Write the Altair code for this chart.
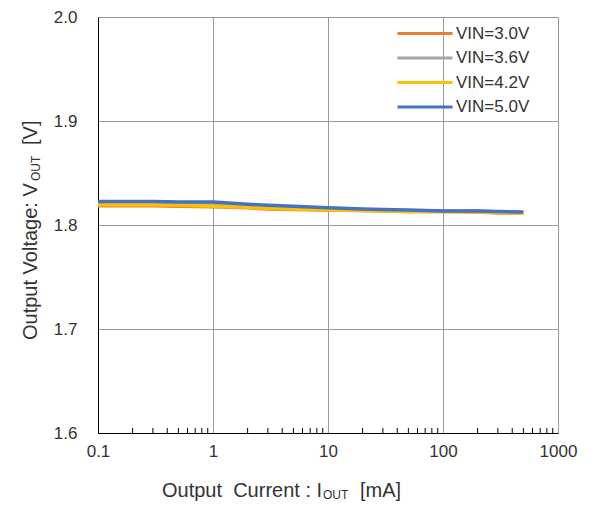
import altair as alt
import pandas as pd

# ---- data ----
iout = [0.1, 0.2, 0.3, 0.5, 1, 2, 3, 5, 10, 20, 30, 50, 100, 200, 300, 500]
v30 = [1.8185, 1.8185, 1.8185, 1.818, 1.8175, 1.8165, 1.8155, 1.815, 1.8145, 1.814, 1.8135, 1.813, 1.813, 1.8125, 1.8115, 1.8115]
v36 = [1.8205, 1.8205, 1.8205, 1.820, 1.819, 1.818, 1.817, 1.816, 1.8155, 1.8145, 1.814, 1.8135, 1.8135, 1.8135, 1.8125, 1.812]
v42 = [1.8195, 1.8195, 1.8195, 1.819, 1.818, 1.817, 1.816, 1.8155, 1.8145, 1.814, 1.8135, 1.813, 1.813, 1.8125, 1.812, 1.8115]
v50 = [1.8225, 1.8225, 1.8225, 1.822, 1.822, 1.820, 1.819, 1.818, 1.8165, 1.8155, 1.815, 1.8145, 1.8135, 1.8135, 1.813, 1.8125]
series = ["VIN=3.0V", "VIN=3.6V", "VIN=4.2V", "VIN=5.0V"]
colors = ["#ED7D31", "#A5A5A5", "#FFC000", "#4472C4"]
x_major = [0.1, 1, 10, 100, 1000]
x_minor = [m * d for d in [0.1, 1, 10, 100] for m in range(2, 10)]
y_ticks = [1.6, 1.7, 1.8, 1.9, 2.0]

rows = []
for name, vals in zip(series, [v30, v36, v42, v50]):
    for x, y in zip(iout, vals):
        rows.append({"I": x, "V": y, "series": name, "order": series.index(name)})
df = pd.DataFrame(rows)

FONT = "Liberation Sans"
W, H = 460, 416

xscale = alt.Scale(type="log", domain=[0.1, 1000])
yscale = alt.Scale(domain=[1.6, 2.0])

lines = alt.Chart(df).mark_line(strokeWidth=3.5).encode(
    x=alt.X("I:Q", scale=xscale,
            axis=alt.Axis(values=x_major, format="~g", title=None, grid=True,
                          tickSize=0, labelPadding=10, labelFontSize=17, labelFlush=False,
                          labelFont=FONT, labelColor="#333", domainColor="#000",
                          gridColor="#9a9a9a")),
    y=alt.Y("V:Q", scale=yscale,
            axis=alt.Axis(values=y_ticks, format=".1f", title=None, grid=True,
                          tickSize=0, labelPadding=21, labelFontSize=17, labelFlush=False,
                          labelFont=FONT, labelColor="#333", domainColor="#000",
                          gridColor="#9a9a9a")),
    color=alt.Color("series:N", scale=alt.Scale(domain=series, range=colors),
                    legend=alt.Legend(title=None, orient="none", legendX=333, legendY=5,
                                      symbolType="M-4.5,0H1", symbolSize=400,
                                      symbolStrokeWidth=3, labelFontSize=17,
                                      labelFont=FONT, labelColor="#333",
                                      labelOffset=2, rowPadding=4.5, padding=0)),
    order="order:Q",
)

minor_df = pd.DataFrame({"I": x_minor})
ticks = alt.Chart(minor_df).mark_rule(color="#000", strokeWidth=1).encode(
    x=alt.X("I:Q", scale=xscale),
    y=alt.value(H),
    y2=alt.value(H - 5),
)

NB = "\u00a0"
TF = 20
SF = 12
def txt(text, x, y, size, align, angle=0):
    return alt.Chart(pd.DataFrame({"t": [text]})).mark_text(
        font=FONT, fontSize=size, align=align, baseline="alphabetic",
        angle=angle, color="#333").encode(
        text="t:N", x=alt.value(x), y=alt.value(y))

# x title with subscript
xt_main = txt("Output" + NB + NB + "Current : I", 64, 480, TF, "left")
xt_sub = txt("OUT", 225, 482, SF, "left")
xt_rest = txt("[mA]", 262, 480, TF, "left")
# y title with subscript (rotated)
yt_main = txt("Output Voltage: V", -61, 323, TF, "left", 270)
yt_sub = txt("OUT", -58, 164, SF, "left", 270)
yt_rest = txt("[V]", -61, 128, TF, "left", 270)

chart = alt.layer(lines, ticks, xt_main, xt_sub, xt_rest, yt_main, yt_sub, yt_rest).properties(
    width=W, height=H,
    autosize=alt.AutoSizeParams(type="none"),
    padding={"left": 90, "top": 9, "right": 25, "bottom": 75},
).configure_view(stroke="#808080", strokeWidth=1).configure(background="white")

chart.save("out.html", embed_options={"renderer": "svg", "actions": False})
